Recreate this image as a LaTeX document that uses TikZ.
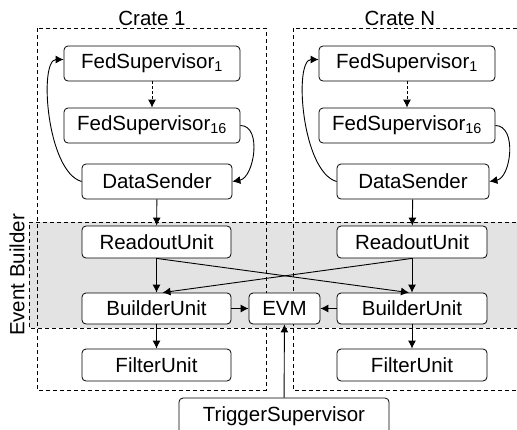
\documentclass[tikz,border=0pt]{standalone}
\usepackage{fontspec}
\setmainfont{Liberation Sans}
\usetikzlibrary{arrows.meta}
\begin{document}
\begin{tikzpicture}[x=1pt,y=-1pt,
  box/.style={draw, rounded corners=4pt, fill=white, line width=0.8pt, inner sep=0pt, font=\fontsize{20.5}{22}\selectfont},
  arr/.style={line width=0.9pt, -{Latex[length=8pt,width=8pt]}},
  crate/.style={draw, dashed, dash pattern=on 4pt off 3pt, line width=0.8pt},
  lbl/.style={font=\fontsize{20.5}{22}\selectfont}]
\clip (0,0) rectangle (517,429);
\fill[white] (0,0) rectangle (517,429);
% event builder band
\fill[gray!22] (29,222) rectangle (530,328);
\draw[crate] (530,222) -- (29,222) -- (29,328) -- (530,328);
% crates
\draw[crate] (37,28) rectangle (266,390);
\draw[crate] (293,28) rectangle (540,390);
\node[lbl] (c1) at (152,18) {Crate 1};
\node[lbl] (cN) at (400,18) {Crate N};
\node[lbl, rotate=90] (eb) at (17,275) {Event Builder};
% crate 1
\node[box, minimum width=176, minimum height=35] (fs1) at (152,63.5) {FedSupervisor\textsubscript{1}};
\node[box, minimum width=176, minimum height=35] (fs16) at (152,125.5) {FedSupervisor\textsubscript{16}};
\node[box, minimum width=150, minimum height=35] (ds) at (157,181.5) {DataSender};
\node[box, minimum width=149, minimum height=32] (ru) at (156.5,242) {ReadoutUnit};
\node[box, minimum width=149, minimum height=31] (bu) at (156.5,308.5) {BuilderUnit};
\node[box, minimum width=149, minimum height=32] (fu) at (156.5,365) {FilterUnit};
% crate N
\node[box, minimum width=176, minimum height=35] (fs1N) at (407,63.5) {FedSupervisor\textsubscript{1}};
\node[box, minimum width=176, minimum height=35] (fs16N) at (407,125.5) {FedSupervisor\textsubscript{16}};
\node[box, minimum width=152, minimum height=35] (dsN) at (413,181.5) {DataSender};
\node[box, minimum width=150, minimum height=32] (ruN) at (412,242) {ReadoutUnit};
\node[box, minimum width=150, minimum height=31] (buN) at (412,308.5) {BuilderUnit};
\node[box, minimum width=150, minimum height=32] (fuN) at (412,365) {FilterUnit};
% EVM and trigger
\node[box, minimum width=71, minimum height=31] (evm) at (284.5,308.5) {EVM};
\node[box, minimum width=210, minimum height=36] (ts) at (284,416) {TriggerSupervisor};
% connectors crate 1
\draw[arr, dashed, dash pattern=on 3pt off 2pt] (fs1) -- (fs16);
\draw[arr] (fs16.east) to[out=0,in=10,looseness=1.0] (ds.east);
\draw[arr] (ds.west) .. controls +(-35,-10) and +(-25,0) .. ([yshift=4]fs1.west);
\draw[arr] (ds) -- (ru);
\draw[arr] (ru) -- (bu);
\draw[arr] (bu) -- (fu);
\draw[arr] (bu) -- (evm);
% connectors crate N
\draw[arr, dashed, dash pattern=on 3pt off 2pt] (fs1N) -- (fs16N);
\draw[arr] (fs16N.east) to[out=0,in=10,looseness=1.0] (dsN.east);
\draw[arr] (dsN.west) .. controls +(-35,-10) and +(-25,0) .. ([yshift=4]fs1N.west);
\draw[arr] (dsN) -- (ruN);
\draw[arr] (ruN) -- (buN);
\draw[arr] (buN) -- (fuN);
\draw[arr] (buN) -- (evm);
% cross
\draw[arr] (ru.south) -- ([xshift=-3]buN.north);
\draw[arr] (ruN.south) -- ([xshift=6]bu.north);
\draw[arr] (ts) -- (evm);
\end{tikzpicture}
\end{document}
